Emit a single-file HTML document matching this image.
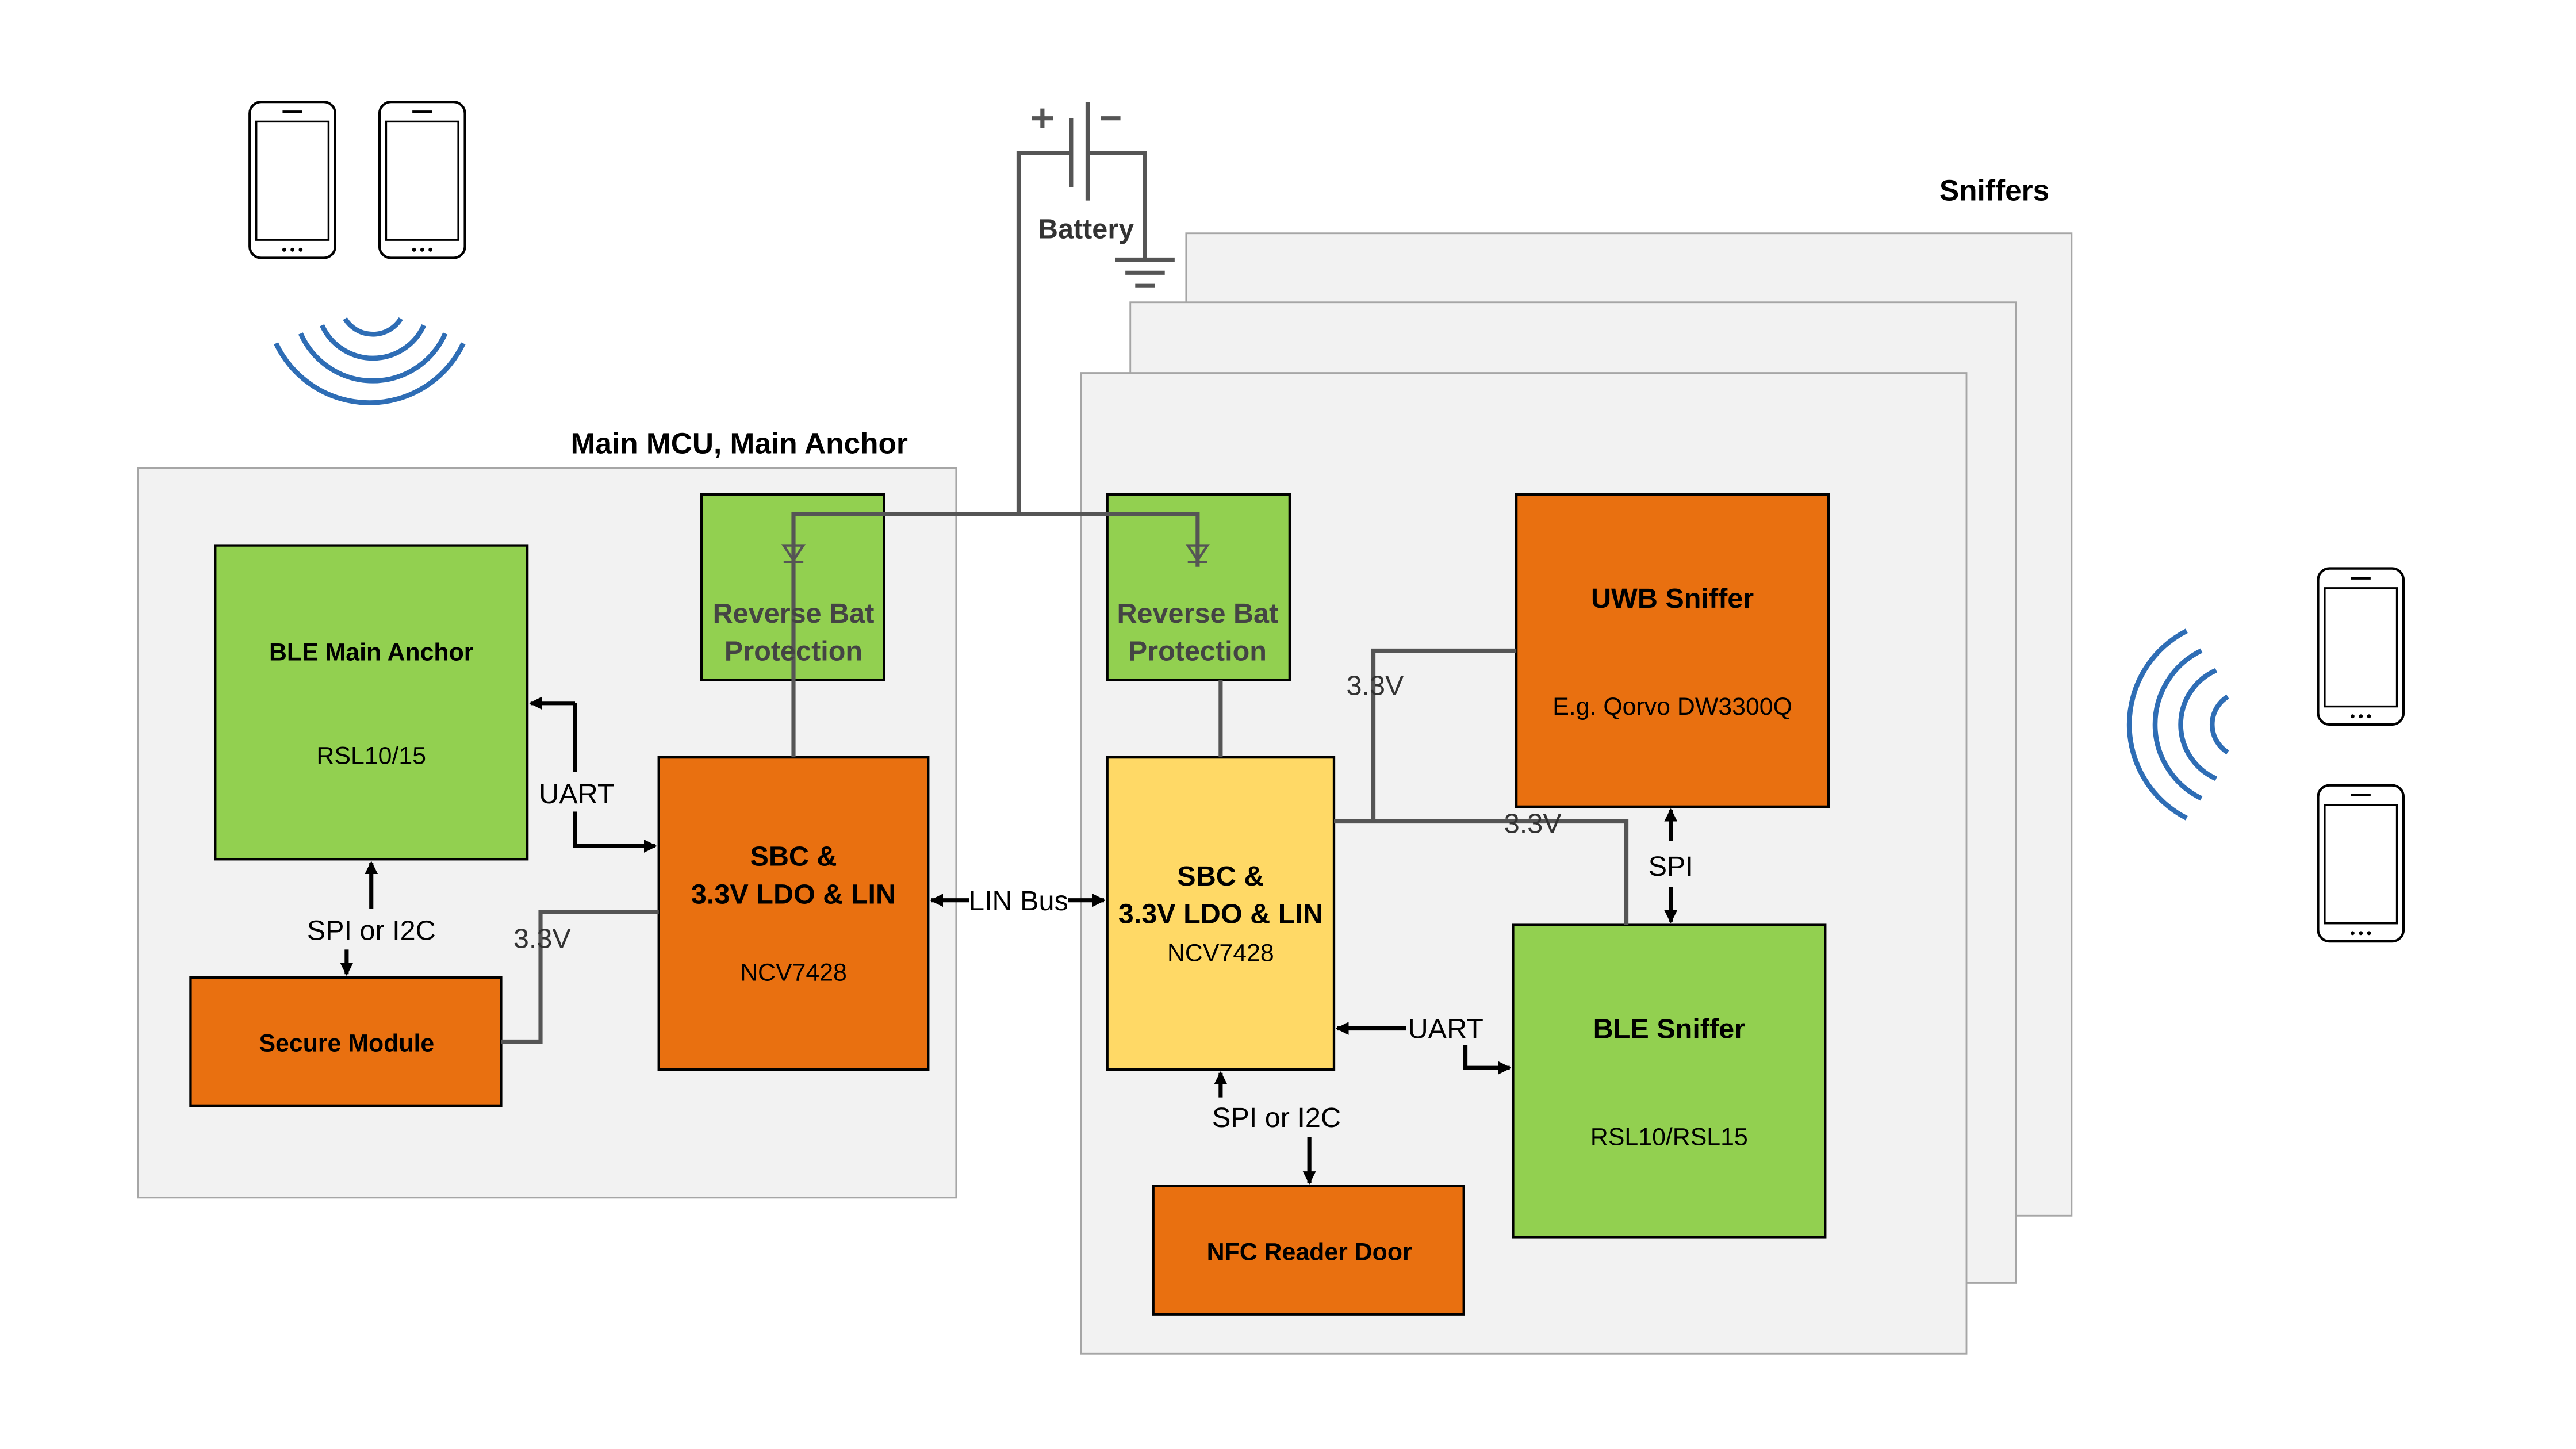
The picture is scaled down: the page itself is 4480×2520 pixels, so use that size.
<!DOCTYPE html>
<html><head><meta charset="utf-8"><style>
html,body{margin:0;padding:0;background:#fff;}
svg{display:block;}
text{font-family:"Liberation Sans",sans-serif;}
</style></head><body>
<svg width="4480" height="2520" viewBox="0 0 1568 882" xmlns="http://www.w3.org/2000/svg">
<defs>
<marker id="ah" markerWidth="8" markerHeight="8" refX="7" refY="4" orient="auto" markerUnits="userSpaceOnUse"><path d="M0,0 L8,4 L0,8 z" fill="#000"/></marker>
<g id="phone"><rect x="0" y="0" width="52" height="95" rx="7" fill="#fff" stroke="#000" stroke-width="1.5"/><rect x="4" y="12" width="44" height="72" fill="#fff" stroke="#000" stroke-width="1.2"/><line x1="20" y1="6" x2="32" y2="6" stroke="#000" stroke-width="1.5"/><circle cx="21" cy="90" r="1.2"/><circle cx="26" cy="90" r="1.2"/><circle cx="31" cy="90" r="1.2"/></g>
</defs>
<!-- phones -->
<use href="#phone" x="152" y="62"/><use href="#phone" x="231" y="62"/>
<use href="#phone" x="1411" y="346"/><use href="#phone" x="1411" y="478"/>
<!-- waves top -->
<g fill="none" stroke="#2e6db5" stroke-width="3">
<path d="M210,194 A20,20 0 0 0 244,194"/><path d="M196,198 A34,34 0 0 0 258,198"/><path d="M183,203 A48,48 0 0 0 271,203"/><path d="M168,209 A63,63 0 0 0 282,209"/>
<path d="M1356,424 A20,20 0 0 0 1356,458"/><path d="M1349,408 A36,36 0 0 0 1349,474"/><path d="M1340,396 A50,50 0 0 0 1340,486"/><path d="M1331,384 A64,64 0 0 0 1331,498"/>
</g>
<!-- sniffer panels -->
<rect x="722" y="142" width="539" height="598" fill="#f2f2f2" stroke="#a6a6a6"/>
<rect x="688" y="184" width="539" height="597" fill="#f2f2f2" stroke="#a6a6a6"/>
<rect x="658" y="227" width="539" height="597" fill="#f2f2f2" stroke="#a6a6a6"/>
<text x="1214" y="122" font-size="18" font-weight="bold" text-anchor="middle">Sniffers</text>
<!-- main panel -->
<rect x="84" y="285" width="498" height="444" fill="#f2f2f2" stroke="#a6a6a6"/>
<text x="450" y="276" font-size="18" font-weight="bold" text-anchor="middle">Main MCU, Main Anchor</text>
<!-- battery -->
<g stroke="#555" stroke-width="2.5" fill="none">
<line x1="652" y1="72" x2="652" y2="114"/><line x1="662" y1="62" x2="662" y2="122"/>
<polyline points="652,93 620,93 620,313"/><polyline points="662,93 697,93 697,157"/>
<line x1="679" y1="158" x2="715" y2="158"/><line x1="685" y1="166" x2="709" y2="166"/><line x1="691" y1="174" x2="703" y2="174"/>
<line x1="628" y1="72" x2="641" y2="72"/><line x1="634.5" y1="66" x2="634.5" y2="78"/><line x1="670" y1="72" x2="682" y2="72"/>
</g>
<text x="661" y="145" font-size="17" font-weight="bold" fill="#333" text-anchor="middle">Battery</text>
<!-- boxes -->
<rect x="131" y="332" width="190" height="191" fill="#92d050" stroke="#000" stroke-width="1.5"/>
<rect x="116" y="595" width="189" height="78" fill="#e97010" stroke="#000" stroke-width="1.5"/>
<rect x="427" y="301" width="111" height="113" fill="#92d050" stroke="#000" stroke-width="1.5"/>
<rect x="674" y="301" width="111" height="113" fill="#92d050" stroke="#000" stroke-width="1.5"/>
<rect x="401" y="461" width="164" height="190" fill="#e97010" stroke="#000" stroke-width="1.5"/>
<rect x="674" y="461" width="138" height="190" fill="#ffd966" stroke="#000" stroke-width="1.5"/>
<rect x="923" y="301" width="190" height="190" fill="#e97010" stroke="#000" stroke-width="1.5"/>
<rect x="921" y="563" width="190" height="190" fill="#92d050" stroke="#000" stroke-width="1.5"/>
<rect x="702" y="722" width="189" height="78" fill="#e97010" stroke="#000" stroke-width="1.5"/>
<!-- power wires -->
<g stroke="#555" stroke-width="2.5" fill="none">
<polyline points="483,461 483,313 729,313 729,345"/>
<line x1="743" y1="414" x2="743" y2="461"/>
<polyline points="812,500 990,500 990,563"/>
<polyline points="836,500 836,396 923,396"/>
<polyline points="305,634 329,634 329,580"/>
<polyline points="329,580 329,555 401,555"/>
<path d="M477,332 L489,332 L483,341 z M477,342 L489,342" stroke-width="1.5"/>
<path d="M723,332 L735,332 L729,341 z M723,342 L735,342" stroke-width="1.5"/>
</g>
<!-- signal arrows -->
<g stroke="#000" stroke-width="2.5" fill="none">
<polyline points="350,428 323,428" marker-end="url(#ah)"/>
<polyline points="350,470 350,428"/>
<polyline points="350,494 350,515 399,515" marker-end="url(#ah)"/>
<line x1="226" y1="553" x2="226" y2="525" marker-end="url(#ah)"/>
<line x1="211" y1="578" x2="211" y2="593" marker-end="url(#ah)"/>
<line x1="590" y1="548" x2="567" y2="548" marker-end="url(#ah)"/>
<line x1="650" y1="548" x2="672" y2="548" marker-end="url(#ah)"/>
<line x1="856" y1="626" x2="814" y2="626" marker-end="url(#ah)"/>
<polyline points="892,636 892,650 919,650" marker-end="url(#ah)"/>
<line x1="743" y1="668" x2="743" y2="653" marker-end="url(#ah)"/>
<line x1="797" y1="692" x2="797" y2="720" marker-end="url(#ah)"/>
<line x1="1017" y1="512" x2="1017" y2="493" marker-end="url(#ah)"/>
<line x1="1017" y1="540" x2="1017" y2="561" marker-end="url(#ah)"/>
</g>
<!-- labels -->
<g font-size="15" font-weight="bold" text-anchor="middle" fill="#000">
<text x="226" y="402">BLE Main Anchor</text>
<text x="211" y="640">Secure Module</text>
<text x="483" y="527" font-size="17">SBC &amp;</text>
<text x="483" y="550" font-size="17">3.3V LDO &amp; LIN</text>
<text x="743" y="539" font-size="17">SBC &amp;</text>
<text x="743" y="562" font-size="17">3.3V LDO &amp; LIN</text>
<text x="1018" y="370" font-size="17">UWB Sniffer</text>
<text x="1016" y="632" font-size="17">BLE Sniffer</text>
<text x="797" y="767">NFC Reader Door</text>
<text x="483" y="379" font-size="17" fill="#444">Reverse Bat</text>
<text x="483" y="402" font-size="17" fill="#444">Protection</text>
<text x="729" y="379" font-size="17" fill="#444">Reverse Bat</text>
<text x="729" y="402" font-size="17" fill="#444">Protection</text>
</g>
<g font-size="15" text-anchor="middle" fill="#000">
<text x="226" y="465">RSL10/15</text>
<text x="483" y="597">NCV7428</text>
<text x="743" y="585">NCV7428</text>
<text x="1018" y="435">E.g. Qorvo DW3300Q</text>
<text x="1016" y="697">RSL10/RSL15</text>
</g>
<g font-size="17" text-anchor="middle" fill="#000">
<rect x="328" y="472" width="46" height="22" fill="#f2f2f2"/>
<text x="351" y="489">UART</text>
<text x="226" y="572">SPI or I2C</text>
<text x="330" y="577" fill="#333">3.3V</text>
<text x="620" y="554">LIN Bus</text>
<text x="837" y="423" fill="#333">3.3V</text>
<text x="933" y="507" fill="#333">3.3V</text>
<text x="1017" y="533">SPI</text>
<text x="880" y="632">UART</text>
<text x="777" y="686">SPI or I2C</text>
</g>
</svg>
</body></html>
